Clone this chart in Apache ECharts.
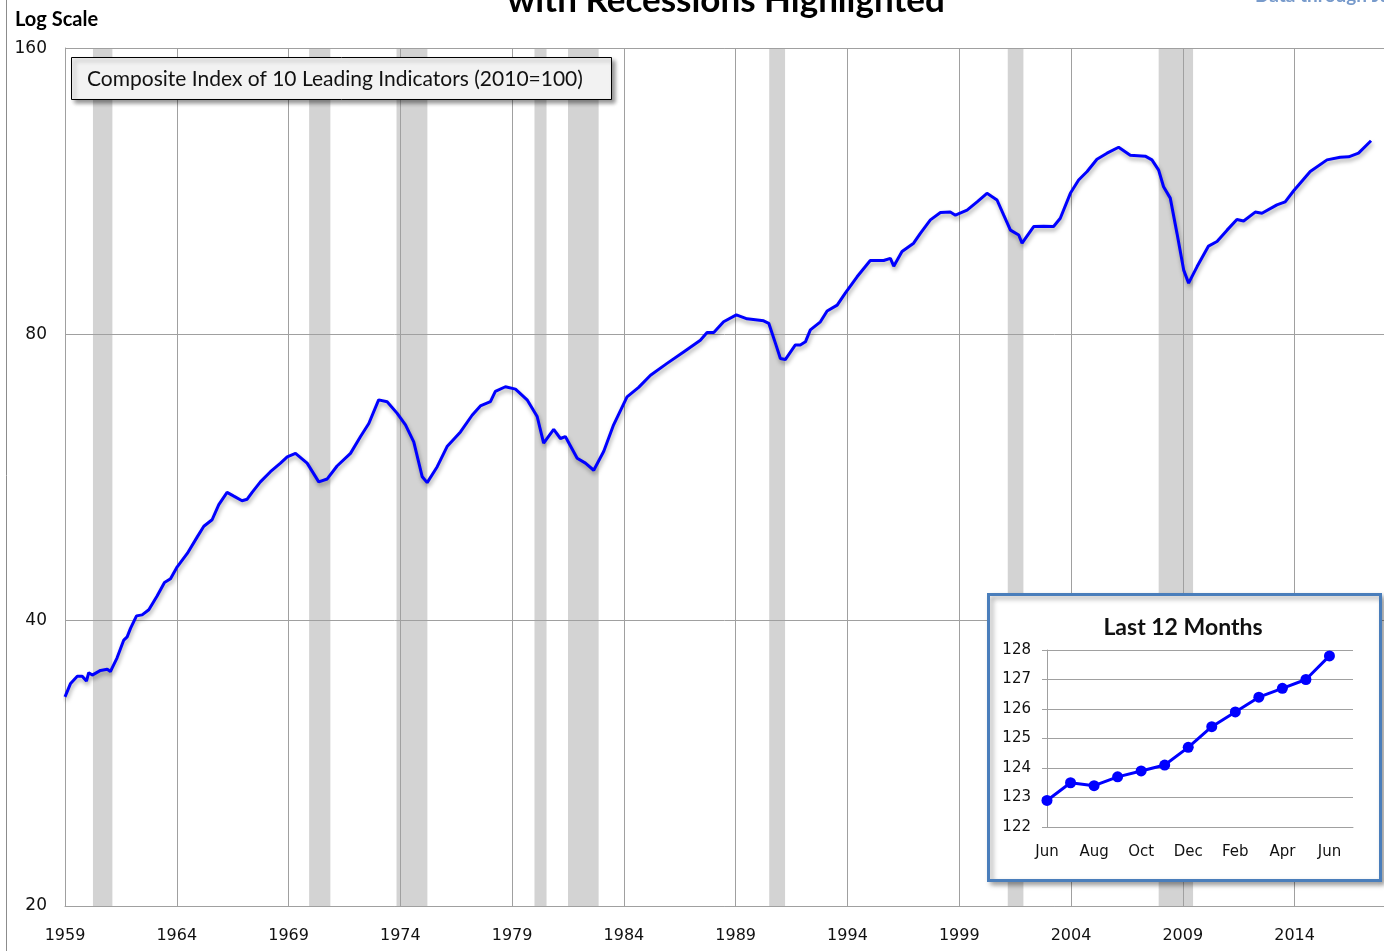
<!DOCTYPE html>
<html>
<head>
<meta charset="utf-8">
<title>Composite Index of 10 Leading Indicators</title>
<script src="https://cdn.jsdelivr.net/npm/echarts@6/dist/echarts.min.js"></script>
<style>
  html, body { margin: 0; padding: 0; background: #fff; }
  #chart { width: 1384px; height: 951px; }
</style>
</head>
<body>
<div id="chart"></div>
<script>
// main series (decimal year, index value)
const years = [
  1959.00, 1959.25, 1959.55, 1959.77, 1959.96, 1960.06, 1960.22, 1960.59, 1960.89, 1961.03,
  1961.33, 1961.63, 1961.78, 1961.93, 1962.20, 1962.45, 1962.75, 1963.12, 1963.45, 1963.72,
  1964.02, 1964.47, 1964.91, 1965.21, 1965.58, 1965.88, 1966.25, 1966.55, 1966.92, 1967.15,
  1967.37, 1967.74, 1968.19, 1968.64, 1968.94, 1969.31, 1969.83, 1970.35, 1970.73, 1971.17,
  1971.77, 1972.22, 1972.59, 1973.03, 1973.41, 1973.86, 1974.23, 1974.60, 1974.98, 1975.20,
  1975.65, 1976.09, 1976.69, 1977.21, 1977.58, 1978.03, 1978.25, 1978.70, 1979.15, 1979.67,
  1980.12, 1980.41, 1980.86, 1981.16, 1981.38, 1981.91, 1982.28, 1982.65, 1983.10, 1983.54,
  1984.14, 1984.66, 1985.19, 1985.93, 1986.67, 1987.42, 1987.72, 1988.02, 1988.46, 1989.03,
  1989.51, 1990.25, 1990.48, 1990.78, 1991.00, 1991.22, 1991.67, 1991.89, 1992.12, 1992.34,
  1992.79, 1993.09, 1993.54, 1993.91, 1994.43, 1995.02, 1995.62, 1995.92, 1996.07, 1996.44,
  1996.96, 1997.26, 1997.71, 1998.16, 1998.60, 1998.83, 1999.35, 1999.80, 2000.24, 2000.69,
  2000.99, 2001.29, 2001.66, 2001.81, 2002.33, 2002.77, 2003.22, 2003.52, 2003.97, 2004.34,
  2004.72, 2005.16, 2005.61, 2006.13, 2006.65, 2007.32, 2007.62, 2007.92, 2008.14, 2008.44,
  2008.74, 2009.04, 2009.26, 2009.64, 2010.15, 2010.53, 2010.98, 2011.42, 2011.72, 2012.24,
  2012.54, 2013.21, 2013.58, 2013.96, 2014.70, 2015.45, 2016.04, 2016.42, 2016.86, 2017.42
]
const values = [
  33.2, 34.3, 34.9, 34.9, 34.5, 35.2, 35.0, 35.4, 35.5, 35.3,
  36.5, 38.1, 38.4, 39.2, 40.4, 40.5, 41.0, 42.4, 43.8, 44.2,
  45.5, 47.0, 48.9, 50.2, 51.0, 52.9, 54.5, 54.0, 53.4, 53.6,
  54.5, 55.9, 57.3, 58.5, 59.4, 59.9, 58.5, 55.9, 56.3, 58.1,
  59.9, 62.4, 64.4, 68.2, 67.9, 66.0, 64.2, 61.6, 56.6, 55.8,
  58.0, 60.9, 63.1, 65.7, 67.2, 67.9, 69.6, 70.4, 70.0, 68.2,
  65.5, 61.4, 63.5, 62.1, 62.4, 59.2, 58.5, 57.5, 60.2, 64.2,
  68.7, 70.3, 72.4, 74.5, 76.6, 78.8, 80.3, 80.3, 82.4, 83.8,
  83.0, 82.6, 82.1, 78.2, 75.4, 75.2, 77.9, 77.9, 78.5, 80.8,
  82.4, 84.6, 85.8, 88.4, 91.9, 95.6, 95.6, 96.1, 94.3, 97.7,
  99.7, 102.1, 105.5, 107.4, 107.5, 106.7, 108.0, 110.2, 112.5, 110.7,
  106.7, 102.9, 101.7, 99.7, 103.8, 103.9, 103.8, 105.9, 112.5, 116.2,
  118.6, 122.2, 124.0, 125.8, 123.4, 123.1, 122.0, 119.0, 114.3, 111.2,
  102.1, 93.4, 90.5, 94.2, 99.0, 100.1, 102.9, 105.6, 105.2, 107.5,
  107.2, 109.4, 110.2, 113.2, 118.6, 122.0, 122.8, 122.9, 124.0, 127.8
]

// recessions (decimal years)
const recessionStarts = [1960.25, 1969.92, 1973.83, 1980.00, 1981.50, 1990.50, 2001.17, 2007.92]
const recessionEnds   = [1961.12, 1970.87, 1975.21, 1980.54, 1982.87, 1991.21, 2001.87, 2009.46]

// inset: last 12 months
const insetMonths = ['Jun', 'Jul', 'Aug', 'Sep', 'Oct', 'Nov', 'Dec', 'Jan', 'Feb', 'Mar', 'Apr', 'May', 'Jun', '']
const insetValues = [122.9, 123.5, 123.4, 123.7, 123.9, 124.1, 124.7, 125.4, 125.9, 126.4, 126.7, 127.0, 127.8]

const GRID_COLOR = '#a0a0a0'
const LABEL_FONT = { fontFamily: 'DejaVu Sans', fontSize: 16, color: '#111' }

const chart = echarts.init(document.getElementById('chart'))

const mainData = years.map((y, i) => [y, values[i]])
const bands = recessionStarts.map((s, i) => [{ xAxis: s }, { xAxis: recessionEnds[i] }])

chart.setOption({
  animation: false,
  grid: [
    { left: 65, top: 48, right: 0, bottom: 45 },
    { left: 1047, top: 650, width: 306, height: 177, z: 6 }
  ],
  xAxis: [
    {
      type: 'value', gridIndex: 0, z: 2,
      min: 1959, max: 2018, interval: 5,
      axisLine: { show: true, lineStyle: { color: GRID_COLOR, width: 1 } },
      axisTick: { show: false },
      splitLine: { show: true, lineStyle: { color: GRID_COLOR, width: 1 } },
      axisLabel: { ...LABEL_FONT, margin: 22, showMaxLabel: false, formatter: v => String(Math.round(v)) }
    },
    {
      type: 'category', gridIndex: 1, z: 7,
      data: insetMonths, boundaryGap: false,
      axisLine: { show: true, lineStyle: { color: GRID_COLOR } },
      axisTick: { show: false },
      axisLabel: { interval: 1, fontFamily: 'DejaVu Sans', fontSize: 15, color: '#111', margin: 18 }
    }
  ],
  yAxis: [
    {
      type: 'log', logBase: 2, gridIndex: 0, z: 2,
      min: 20, max: 160, interval: 1,
      axisLine: { show: true, lineStyle: { color: GRID_COLOR, width: 1 } },
      axisTick: { show: false },
      splitLine: { show: true, lineStyle: { color: GRID_COLOR, width: 1 } },
      axisLabel: { ...LABEL_FONT, fontSize: 17, margin: 18, formatter: v => String(Math.round(v)) }
    },
    {
      type: 'value', gridIndex: 1, z: 7,
      min: 122, max: 128, interval: 1,
      axisLine: { show: true, lineStyle: { color: GRID_COLOR } },
      axisTick: { show: true, length: 5, lineStyle: { color: GRID_COLOR } },
      splitLine: { show: true, lineStyle: { color: GRID_COLOR } },
      axisLabel: { fontFamily: 'DejaVu Sans', fontSize: 15, color: '#111', margin: 16 }
    }
  ],
  series: [
    {
      name: 'Recessions', type: 'line', xAxisIndex: 0, yAxisIndex: 0, z: 1,
      data: [], silent: true,
      markArea: { silent: true, itemStyle: { color: '#d3d3d3' }, data: bands }
    },
    {
      name: 'Composite Index', type: 'line', xAxisIndex: 0, yAxisIndex: 0, z: 3,
      data: mainData, showSymbol: false, symbol: 'none',
      lineStyle: { color: '#0000ff', width: 3, shadowColor: 'rgba(0,0,0,0.35)', shadowBlur: 4, shadowOffsetX: 1, shadowOffsetY: 3 }
    },
    {
      name: 'Last 12 Months', type: 'line', xAxisIndex: 1, yAxisIndex: 1, z: 8,
      data: insetValues, symbol: 'circle', symbolSize: 11,
      itemStyle: { color: '#0000ff' },
      lineStyle: { color: '#0000ff', width: 3 }
    }
  ],
  graphic: [
    { type: 'line', z: 5, shape: { x1: 6.5, y1: 0, x2: 6.5, y2: 951 }, style: { stroke: '#8c8c8c', lineWidth: 1 } },
    { type: 'text', z: 5, style: { x: 726, y: -17, text: 'with Recessions Highlighted', textAlign: 'center', textVerticalAlign: 'top', font: 'bold 35px Lato', fill: '#000' } },
    { type: 'text', z: 5, style: { x: 1255, y: -14, text: 'Data through June 2017', textAlign: 'left', textVerticalAlign: 'top', font: 'bold 19px Lato', fill: '#3d6fb5', opacity: 0.7 } },
    { type: 'text', z: 5, style: { x: 15, y: 20, text: 'Log Scale', textAlign: 'left', textVerticalAlign: 'middle', font: 'bold 20px Lato', fill: '#000' } },
    {
      type: 'rect', z: 5, shape: { x: 71.5, y: 57.5, width: 540, height: 42 },
      style: { fill: '#f2f2f2', stroke: '#000', lineWidth: 1, shadowColor: 'rgba(0,0,0,0.4)', shadowBlur: 4, shadowOffsetX: 3, shadowOffsetY: 3 }
    },
    { type: 'text', z: 6, style: { x: 87, y: 79, text: 'Composite Index of 10 Leading Indicators (2010=100)', textAlign: 'left', textVerticalAlign: 'middle', font: '21px Lato', fill: '#111' } },
    {
      type: 'rect', z: 5, shape: { x: 988.5, y: 594.5, width: 392, height: 286 },
      style: { fill: '#fff', stroke: '#4a7ebb', lineWidth: 3, shadowColor: 'rgba(0,0,0,0.35)', shadowBlur: 5, shadowOffsetX: 3, shadowOffsetY: 3 }
    },
    { type: 'text', z: 6, style: { x: 1183, y: 628, text: 'Last 12 Months', textAlign: 'center', textVerticalAlign: 'middle', font: 'bold 23px Lato', fill: '#111' } }
  ]
})
</script>
</body>
</html>
